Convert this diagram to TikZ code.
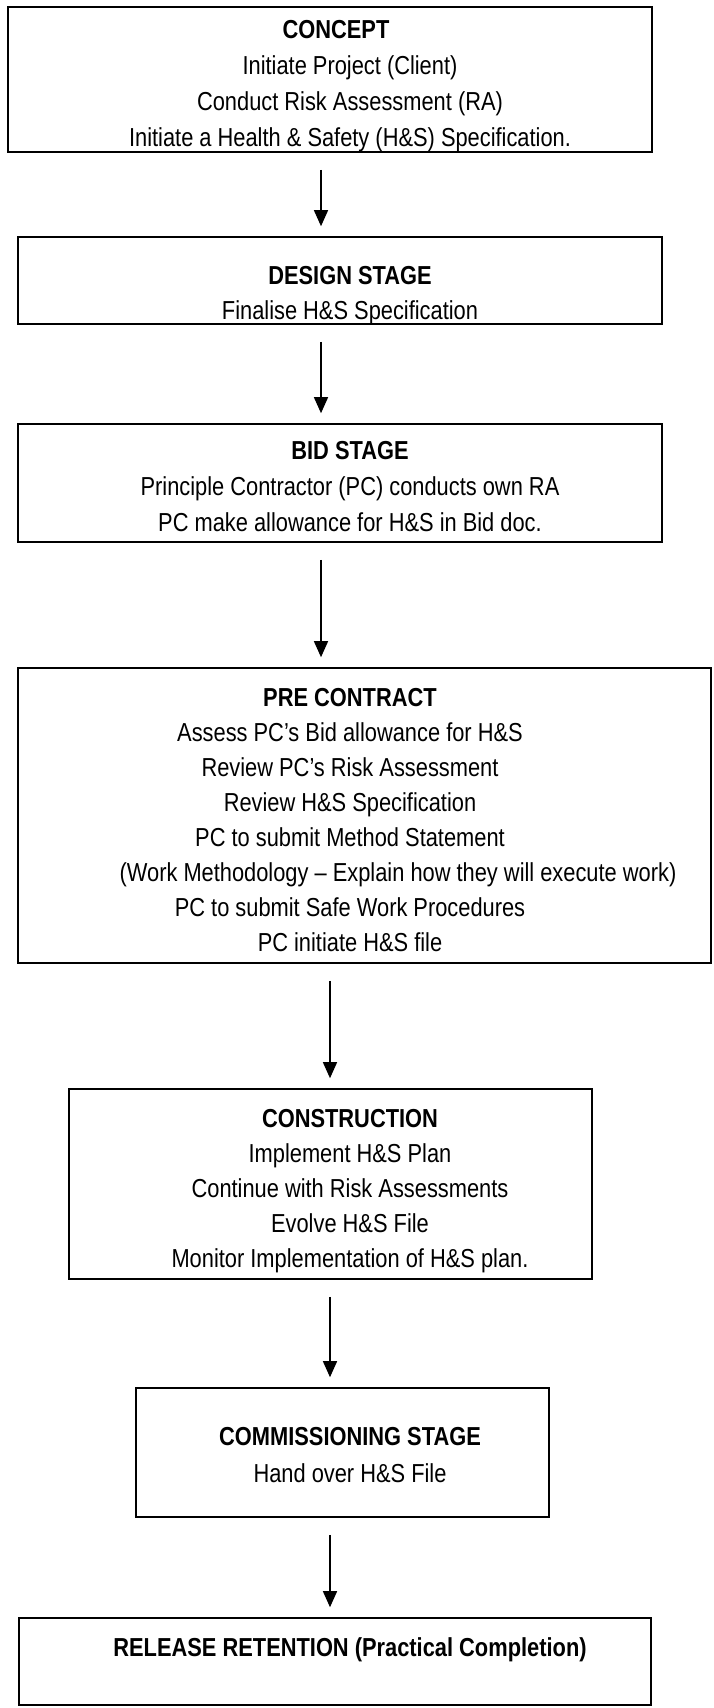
\documentclass[tikz,border=0pt]{standalone}
\usepackage{fontspec}
\setmainfont{Liberation Sans}[FakeStretch=0.84]
\usetikzlibrary{arrows.meta}
\tikzset{
  stagebox/.style={draw=black,line width=1.6pt,inner sep=0pt},
  stagetext/.style={align=center,anchor=north,inner sep=0pt,font=\fontsize{26}{35}\selectfont},
  flowarrow/.style={-{Triangle[length=16pt,width=14pt]},line width=1.4pt,shorten <=17pt,shorten >=10pt}
}

\begin{document}
\begin{tikzpicture}[x=1pt,y=1pt]
\useasboundingbox (0,0) rectangle (713,-1708);
\coordinate (spineA) at (321,0);
\coordinate (spineB) at (330,0);
% stages
\node[stagebox,minimum width=644pt,minimum height=145pt] (concept) at (330,-79.5) {};
\node[stagebox,minimum width=644pt,minimum height=87pt] (design) at (340,-280.5) {};
\node[stagebox,minimum width=644pt,minimum height=118pt] (bid) at (340,-483) {};
\node[stagebox,minimum width=693pt,minimum height=295pt] (precontract) at (364.5,-815.5) {};
\node[stagebox,minimum width=523pt,minimum height=190pt] (construction) at (330.5,-1184) {};
\node[stagebox,minimum width=413pt,minimum height=129pt] (commissioning) at (342.5,-1452.5) {};
\node[stagebox,minimum width=632pt,minimum height=87pt] (release) at (335,-1661.5) {};
% texts
\node[stagetext,font=\fontsize{26}{36}\selectfont] (concepttext) at (350,-12.8)
  {\strut\textbf{CONCEPT}\hspace*{28pt}\\Initiate Project (Client)\\Conduct Risk Assessment (RA)\\Initiate a Health \& Safety (H\&S) Specification.};
\node[stagetext] (designtext) at (350,-259.8)
  {\strut\textbf{DESIGN STAGE}\\Finalise H\&S Specification};
\node[stagetext,font=\fontsize{26}{36}\selectfont] (bidtext) at (350,-433.8)
  {\strut\textbf{BID STAGE}\\Principle Contractor (PC) conducts own RA\\PC make allowance for H\&S in Bid doc.};
\node[stagetext] (precontracttext) at (350,-681.8)
  {\strut\textbf{PRE CONTRACT}\\Assess PC’s Bid allowance for H\&S\\Review PC’s Risk Assessment\\Review H\&S Specification\\PC to submit Method Statement\\\hspace*{96pt}(Work Methodology – Explain how they will execute work)\\PC to submit Safe Work Procedures\\PC initiate H\&S file};
\node[stagetext] (constructiontext) at (350,-1102.8)
  {\strut\textbf{CONSTRUCTION}\\Implement H\&S Plan\\Continue with Risk Assessments\\Evolve H\&S File\\Monitor Implementation of H\&S plan.};
\node[stagetext,font=\fontsize{26}{37}\selectfont] (commissioningtext) at (350,-1419.8)
  {\strut\textbf{COMMISSIONING STAGE}\\Hand over H\&S File};
\node[stagetext] (releasetext) at (350,-1631.8)
  {\strut\textbf{RELEASE RETENTION (Practical Completion)}};
% flow
\draw[flowarrow] (concept.south -| spineA) -- (design.north -| spineA);
\draw[flowarrow] (design.south -| spineA) -- (bid.north -| spineA);
\draw[flowarrow] (bid.south -| spineA) -- (precontract.north -| spineA);
\draw[flowarrow] (precontract.south -| spineB) -- (construction.north -| spineB);
\draw[flowarrow] (construction.south -| spineB) -- (commissioning.north -| spineB);
\draw[flowarrow] (commissioning.south -| spineB) -- (release.north -| spineB);
\end{tikzpicture}
\end{document}
